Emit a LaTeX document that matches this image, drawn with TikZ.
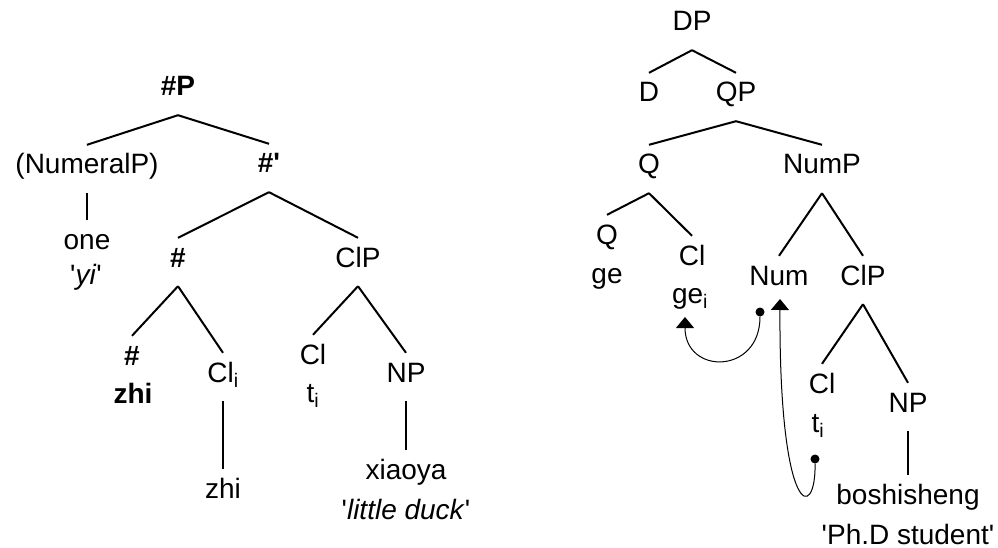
\documentclass[tikz,border=0pt]{standalone}
\usepackage{fontspec}
\setmainfont{Liberation Sans}
\usetikzlibrary{arrows.meta}

\newcommand{\q}{\textquotesingle}

\begin{document}
\begin{tikzpicture}[x=1pt, y=-1pt,
	lab/.style={anchor=base, inner sep=0pt, text height=29pt, text depth=19pt, font=\fontsize{28}{33}\selectfont},
	branch/.style={black, line width=2pt},
	move/.style={black, line width=1pt, -{Triangle[width=18pt, length=11pt]}},
	trace/.style={circle, fill=black, inner sep=0pt, minimum size=9pt}]
\useasboundingbox (0,0) rectangle (998,548);

% left tree
\node[lab] (hP) at (178,96) {\textbf{\#P}};
\node[lab] (numeralP) at (87,174) {(NumeralP)};
\node[lab] (one) at (87,249) {one};
\node[lab] (yi) at (86,284) {\q\textit{yi}\q};
\node[lab] (hbar) at (269,173) {\textbf{\#\q}};
\node[lab] (hsh) at (178,267) {\textbf{\#}};
\node[lab] (clP) at (358,267) {ClP};
\node[lab] (hleaf) at (132,365) {\textbf{\#}};
\node[lab] (zhiA) at (133,403) {\textbf{zhi}};
\node[lab] (cli) at (223,382) {Cl\textsubscript{i}};
\node[lab] (zhiB) at (223,498) {zhi};
\node[lab] (cl) at (313,364) {Cl};
\node[lab] (ti) at (313,402) {t\textsubscript{i}};
\node[lab] (np) at (406,382) {NP};
\node[lab] (xiaoya) at (406,479) {xiaoya};
\node[lab] (duck) at (406,519) {\q\textit{little duck}\q};

\foreach \a/\b in {hP/numeralP, hP/hbar, numeralP/one, hbar/hsh, hbar/clP, hsh/hleaf, hsh/cli, clP/cl, clP/np, cli/zhiB, np/xiaoya}{
	\draw[branch] (\a.south) -- (\b.north);
}

% right tree
\node[lab] (dp) at (692,31) {DP};
\node[lab] (d) at (649,102) {D};
\node[lab] (qp) at (736,102) {QP};
\node[lab] (q) at (649,174) {Q};
\node[lab] (nump) at (822,174) {NumP};
\node[lab] (qhead) at (607,244) {Q};
\node[lab] (ge) at (607,283) {ge};
\node[lab] (clq) at (692,265) {Cl};
\node[lab] (gei) at (690,303) {ge\textsubscript{i}};
\node[lab] (num) at (779,285) {Num};
\node[lab] (clPb) at (863,285) {ClP};
\node[lab] (clb) at (822,393) {Cl};
\node[lab] (tib) at (818,432) {t\textsubscript{i}};
\node[lab] (npb) at (908,412) {NP};
\node[lab] (bosh) at (908,504) {boshisheng};
\node[lab] (phd) at (908,544) {\q Ph.D student\q};

\foreach \a/\b in {dp/d, dp/qp, qp/q, qp/nump, q/qhead, q/clq, nump/num, nump/clPb, clPb/clb, clPb/npb, npb/bosh}{
	\draw[branch] (\a.south) -- (\b.north);
}

% movement
\node[trace] (s1) at (760,312) {};
\coordinate (t1) at (685,317);
\draw[move] (s1) .. controls (760,375) and (685,375) .. (t1);
\node[trace] (s2) at (815,459) {};
\coordinate (t2) at (780,299);
\draw[move] (s2) .. controls (816,522) and (779,520) .. (t2);
\end{tikzpicture}
\end{document}
